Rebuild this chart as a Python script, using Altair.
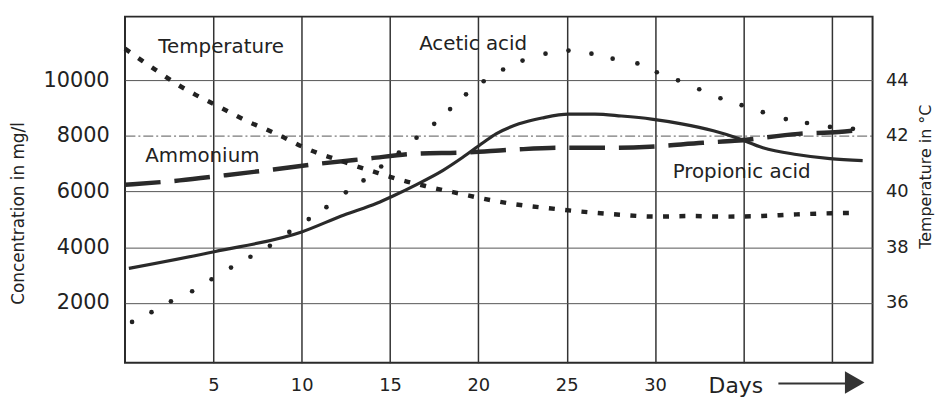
import altair as alt
import pandas as pd

# ---- data ----
temp_days = [0, 1, 2, 3, 4, 5, 6, 7, 8, 9, 10, 11, 12, 13, 14, 15, 16, 17, 18, 19, 20,
             22, 24, 26, 28, 30, 32, 34, 36, 38, 40, 41.5]
temp_vals = [45.13, 44.68, 44.25, 43.83, 43.47, 43.15, 42.82, 42.5, 42.23, 41.94, 41.62,
             41.36, 41.15, 40.93, 40.73, 40.53, 40.35, 40.2, 40.05, 39.92, 39.78,
             39.55, 39.4, 39.27, 39.17, 39.1, 39.12, 39.1, 39.12, 39.18, 39.22, 39.23]

acetic_days = [0.4, 1.5, 2.6, 3.8, 4.9, 6.0, 7.1, 8.2, 9.3, 10.4, 11.4, 12.5, 13.5, 14.5,
               15.5, 16.5, 17.5, 18.4, 19.3, 20.3, 21.4, 22.5, 23.8, 25.1, 26.4, 27.6,
               29.0, 30.1, 31.3, 32.5, 33.7, 34.9, 36.1, 37.4, 38.6, 39.9, 41.2]
acetic_vals = [1320, 1670, 2060, 2420, 2850, 3270, 3660, 4050, 4550, 5010, 5440, 5970,
               6400, 6900, 7400, 7930, 8430, 8960, 9490, 9960, 10380, 10700, 10950, 11060,
               10950, 10770, 10600, 10280, 9990, 9670, 9350, 9100, 8850, 8600, 8460, 8320,
               8250]

prop_days = [0.22, 5.05, 10.0, 12.4, 14.25, 15.2, 16.5, 18.0, 19.1, 20.26, 21.0, 22.3,
             23.6, 25.1, 26.6, 28.1, 29.8, 31.5, 33.3, 34.6, 36.1, 38.0, 39.9, 41.75]
prop_vals = [3240, 3840, 4550, 5160, 5580, 5850, 6250, 6760, 7220, 7750, 8070, 8430,
             8640, 8780, 8780, 8710, 8600, 8430, 8180, 7930, 7570, 7330, 7180, 7110]

amm_days = [0.0, 0.45, 3.1, 5.6, 8.4, 11.0, 13.7, 16.5, 19.2, 21.9, 24.6, 27.3, 29.7,
            32.7, 34.5, 38.1, 40.4, 41.4]
amm_vals = [6240, 6260, 6400, 6580, 6790, 7000, 7180, 7360, 7400, 7500, 7570, 7570, 7610,
            7750, 7820, 8070, 8140, 8200]

label_text = ["Temperature", "Acetic acid", "Ammonium", "Propionic acid"]
label_days = [5.44, 19.7, 4.38, 34.9]
label_vals = [11200, 11310, 7290, 6685]

x_ticks = [5, 10, 15, 20, 25, 30, 35, 40]
conc_ticks = [2000, 4000, 6000, 8000, 10000]
temp_ticks = [36, 38, 40, 42, 44]

# ---- scales / axes ----
x_scale = alt.Scale(domain=[0, 42.31], nice=False, zero=False)
y_scale = alt.Scale(domain=[-142, 12278], nice=False, zero=False)
t_scale = alt.Scale(domain=[33.858, 46.278], nice=False, zero=False)

x_axis = alt.Axis(values=x_ticks, labelExpr="datum.value <= 30 ? datum.value : ''",
                  grid=True, gridColor="#333333", gridWidth=1.5, ticks=False, domain=False,
                  labelFontSize=18, labelPadding=14, labelColor="#222222", title=None,
                  labelFont="DejaVu Sans")
y_axis = alt.Axis(values=conc_ticks, format="d", grid=True, gridColor="#555555", gridWidth=1,
                  gridDash={"condition": {"test": "datum.value === 8000", "value": [10, 3, 2, 3]},
                            "value": []},
                  ticks=False, domain=False, orient="left",
                  labelFontSize=21, labelPadding=16, labelColor="#222222", labelFont="DejaVu Sans",
                  title="Concentration in mg/l", titleFontSize=17, titleFontWeight="normal",
                  titleFont="DejaVu Sans", titleColor="#222222",
                  titleAngle=270, titleX=-107, titleY=198, titleAlign="center",
                  titleBaseline="middle")
t_axis = alt.Axis(values=temp_ticks, format="d", grid=False, ticks=False, domain=False,
                  orient="right",
                  labelFontSize=18, labelPadding=13, labelColor="#222222", labelFont="DejaVu Sans",
                  title="Temperature in °C", titleFontSize=16, titleFontWeight="normal",
                  titleFont="DejaVu Sans", titleColor="#222222",
                  titleAngle=270, titleX=53, titleY=161, titleAlign="center",
                  titleBaseline="middle")

X = alt.X("day:Q", scale=x_scale, axis=x_axis)
Y = alt.Y("value:Q", scale=y_scale, axis=y_axis)

prop_df = pd.DataFrame({"day": prop_days, "value": prop_vals})
amm_df = pd.DataFrame({"day": amm_days, "value": amm_vals})
ac_df = pd.DataFrame({"day": acetic_days, "value": acetic_vals})
temp_df = pd.DataFrame({"day": temp_days, "value": temp_vals})
lab_df = pd.DataFrame({"day": label_days, "value": label_vals, "t": label_text})

prop = alt.Chart(prop_df).mark_line(color="#2a2a2a", strokeWidth=3.2, interpolate="monotone").encode(x=X, y=Y)
amm = alt.Chart(amm_df).mark_line(color="#2a2a2a", strokeWidth=4.5, strokeDash=[36, 14],
                                  interpolate="monotone").encode(x=X, y=Y)
ac = alt.Chart(ac_df).mark_circle(color="#222222", size=22, opacity=1).encode(x=X, y=Y)
labels = alt.Chart(lab_df).mark_text(font="DejaVu Sans", fontSize=20, color="#222222",
                                     baseline="middle", align="center").encode(x=X, y=Y, text="t:N")

days_df = pd.DataFrame({"day": [34.57], "t": ["Days"]})
days_txt = alt.Chart(days_df).mark_text(font="DejaVu Sans", fontSize=22, color="#222222",
                                        baseline="alphabetic", align="center").encode(
    x=X, y=alt.value(380), text="t:N")
arrow_df = pd.DataFrame({"day": [36.98], "day2": [40.9]})
arrow_line = alt.Chart(arrow_df).mark_rule(color="#333333", strokeWidth=2).encode(
    x=X, x2="day2:Q", y=alt.value(370))
head_df = pd.DataFrame({"day": [41.3]})
arrow_head = alt.Chart(head_df).mark_point(shape="triangle-right", filled=True, size=520,
                                           color="#333333", opacity=1).encode(
    x=X, y=alt.value(369))

conc_layer = alt.layer(prop, amm, ac, labels, days_txt, arrow_line, arrow_head)

temp = alt.Chart(temp_df).mark_line(color="#222222", strokeWidth=4.5, strokeDash=[6, 10.5],
                                    interpolate="monotone").encode(
    x=X, y=alt.Y("value:Q", scale=t_scale, axis=t_axis))

chart = alt.layer(conc_layer, temp).resolve_scale(y="independent").properties(
    width=754, height=349,
    autosize=alt.AutoSizeParams(type="none"),
    padding={"left": 118, "top": 7, "right": 66, "bottom": 40},
    background="white",
).configure_view(stroke="#2a2a2a", strokeWidth=2)

chart.save("out.html", embed_options={"renderer": "svg", "actions": False})
